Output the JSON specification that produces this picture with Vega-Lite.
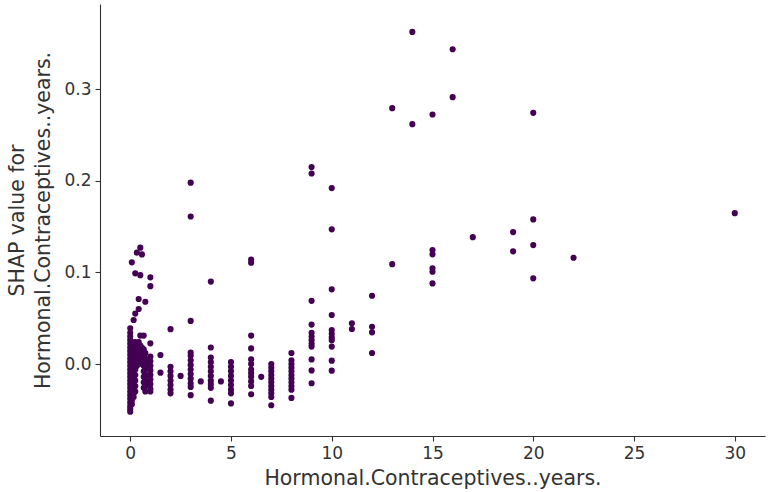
{
  "$schema": "https://vega.github.io/schema/vega-lite/v6.json",
  "autosize": "none",
  "padding": {"left": 100, "top": 4, "right": 4, "bottom": 56},
  "width": 665,
  "height": 432,
  "background": "white",
  "config": {
    "view": {"stroke": null},
    "font": "DejaVu Sans",
    "axis": {
      "grid": false,
      "domainColor": "#333333",
      "domainWidth": 1.1,
      "tickColor": "#333333",
      "tickWidth": 1.1,
      "tickSize": 5,
      "labelColor": "#333333",
      "labelFont": "DejaVu Sans",
      "labelFontSize": 17,
      "labelPadding": 4,
      "titleColor": "#333333",
      "titleFont": "DejaVu Sans",
      "titleFontSize": 20.5,
      "titleFontWeight": "normal"
    }
  },
  "data": {
    "values": [
      {"years": 0, "shap": 0.039}, {"years": 0, "shap": 0.034}, {"years": 0, "shap": 0.030}, {"years": 0, "shap": 0.026},
      {"years": 0, "shap": 0.022}, {"years": 0, "shap": 0.018}, {"years": 0, "shap": 0.014}, {"years": 0, "shap": 0.010},
      {"years": 0, "shap": 0.006}, {"years": 0, "shap": 0.002}, {"years": 0, "shap": -0.002}, {"years": 0, "shap": -0.006},
      {"years": 0, "shap": -0.010}, {"years": 0, "shap": -0.014}, {"years": 0, "shap": -0.018}, {"years": 0, "shap": -0.022},
      {"years": 0, "shap": -0.026}, {"years": 0, "shap": -0.030}, {"years": 0, "shap": -0.034}, {"years": 0, "shap": -0.038},
      {"years": 0, "shap": -0.042}, {"years": 0, "shap": -0.046}, {"years": 0, "shap": -0.049}, {"years": 0, "shap": -0.052},

      {"years": 0.08, "shap": 0.111},
      {"years": 0.08, "shap": 0.024}, {"years": 0.08, "shap": 0.020}, {"years": 0.08, "shap": 0.016}, {"years": 0.08, "shap": 0.012},
      {"years": 0.08, "shap": 0.008}, {"years": 0.08, "shap": 0.004}, {"years": 0.08, "shap": 0.000}, {"years": 0.08, "shap": -0.004},
      {"years": 0.08, "shap": -0.008}, {"years": 0.08, "shap": -0.012}, {"years": 0.08, "shap": -0.016}, {"years": 0.08, "shap": -0.020},
      {"years": 0.08, "shap": -0.024}, {"years": 0.08, "shap": -0.028}, {"years": 0.08, "shap": -0.032}, {"years": 0.08, "shap": -0.036},
      {"years": 0.08, "shap": -0.040}, {"years": 0.08, "shap": -0.044},

      {"years": 0.17, "shap": 0.048},
      {"years": 0.17, "shap": 0.022}, {"years": 0.17, "shap": 0.016}, {"years": 0.17, "shap": 0.010}, {"years": 0.17, "shap": 0.004},
      {"years": 0.17, "shap": -0.002}, {"years": 0.17, "shap": -0.008}, {"years": 0.17, "shap": -0.014}, {"years": 0.17, "shap": -0.020},
      {"years": 0.17, "shap": -0.026}, {"years": 0.17, "shap": -0.032}, {"years": 0.17, "shap": -0.036},

      {"years": 0.25, "shap": 0.099}, {"years": 0.25, "shap": 0.055},
      {"years": 0.25, "shap": 0.024}, {"years": 0.25, "shap": 0.018}, {"years": 0.25, "shap": 0.012}, {"years": 0.25, "shap": 0.006},
      {"years": 0.25, "shap": 0.000}, {"years": 0.25, "shap": -0.006}, {"years": 0.25, "shap": -0.012}, {"years": 0.25, "shap": -0.018},
      {"years": 0.25, "shap": -0.024}, {"years": 0.25, "shap": -0.030},

      {"years": 0.33, "shap": 0.1215},
      {"years": 0.33, "shap": 0.022}, {"years": 0.33, "shap": 0.016}, {"years": 0.33, "shap": 0.010}, {"years": 0.33, "shap": 0.004},
      {"years": 0.33, "shap": -0.002},

      {"years": 0.42, "shap": 0.071}, {"years": 0.42, "shap": 0.060},
      {"years": 0.42, "shap": 0.024}, {"years": 0.42, "shap": 0.018}, {"years": 0.42, "shap": 0.012}, {"years": 0.42, "shap": 0.006},

      {"years": 0.5, "shap": 0.127}, {"years": 0.5, "shap": 0.097}, {"years": 0.5, "shap": 0.031},
      {"years": 0.5, "shap": 0.020}, {"years": 0.5, "shap": 0.014}, {"years": 0.5, "shap": 0.008}, {"years": 0.5, "shap": 0.002},

      {"years": 0.58, "shap": 0.1196},
      {"years": 0.58, "shap": 0.018}, {"years": 0.58, "shap": 0.012}, {"years": 0.58, "shap": 0.006}, {"years": 0.58, "shap": 0.000},

      {"years": 0.67, "shap": 0.031},
      {"years": 0.67, "shap": 0.016}, {"years": 0.67, "shap": 0.010}, {"years": 0.67, "shap": 0.004}, {"years": 0.67, "shap": -0.002},
      {"years": 0.67, "shap": -0.008}, {"years": 0.67, "shap": -0.014}, {"years": 0.67, "shap": -0.020}, {"years": 0.67, "shap": -0.026},

      {"years": 0.75, "shap": 0.068},
      {"years": 0.75, "shap": 0.012}, {"years": 0.75, "shap": 0.006}, {"years": 0.75, "shap": 0.000}, {"years": 0.75, "shap": -0.006},
      {"years": 0.75, "shap": -0.012}, {"years": 0.75, "shap": -0.018}, {"years": 0.75, "shap": -0.024}, {"years": 0.75, "shap": -0.030},

      {"years": 0.92, "shap": 0.004}, {"years": 0.92, "shap": -0.004}, {"years": 0.92, "shap": -0.012}, {"years": 0.92, "shap": -0.020},

      {"years": 1, "shap": 0.0946}, {"years": 1, "shap": 0.085}, {"years": 1, "shap": 0.0226},
      {"years": 1, "shap": 0.008}, {"years": 1, "shap": 0.003}, {"years": 1, "shap": -0.002}, {"years": 1, "shap": -0.007},
      {"years": 1, "shap": -0.012}, {"years": 1, "shap": -0.017}, {"years": 1, "shap": -0.022}, {"years": 1, "shap": -0.027},
      {"years": 1, "shap": -0.030},

      {"years": 1.5, "shap": 0.0098}, {"years": 1.5, "shap": -0.0095},

      {"years": 2, "shap": 0.038},
      {"years": 2, "shap": -0.003}, {"years": 2, "shap": -0.008}, {"years": 2, "shap": -0.013}, {"years": 2, "shap": -0.018},
      {"years": 2, "shap": -0.023}, {"years": 2, "shap": -0.028}, {"years": 2, "shap": -0.032},

      {"years": 2.5, "shap": -0.013},

      {"years": 3, "shap": 0.198}, {"years": 3, "shap": 0.161}, {"years": 3, "shap": 0.047}, {"years": 3, "shap": 0.0124},
      {"years": 3, "shap": 0.009}, {"years": 3, "shap": 0.004}, {"years": 3, "shap": -0.001}, {"years": 3, "shap": -0.006},
      {"years": 3, "shap": -0.011}, {"years": 3, "shap": -0.016}, {"years": 3, "shap": -0.021}, {"years": 3, "shap": -0.025},
      {"years": 3, "shap": -0.034},

      {"years": 3.5, "shap": -0.019},

      {"years": 4, "shap": 0.090}, {"years": 4, "shap": 0.018},
      {"years": 4, "shap": 0.007}, {"years": 4, "shap": 0.002}, {"years": 4, "shap": -0.003}, {"years": 4, "shap": -0.008},
      {"years": 4, "shap": -0.013}, {"years": 4, "shap": -0.018}, {"years": 4, "shap": -0.022}, {"years": 4, "shap": -0.026},
      {"years": 4, "shap": -0.040},

      {"years": 4.5, "shap": -0.019},

      {"years": 5, "shap": 0.002}, {"years": 5, "shap": -0.003}, {"years": 5, "shap": -0.008}, {"years": 5, "shap": -0.013},
      {"years": 5, "shap": -0.018}, {"years": 5, "shap": -0.023}, {"years": 5, "shap": -0.028}, {"years": 5, "shap": -0.032},
      {"years": 5, "shap": -0.043},

      {"years": 6, "shap": 0.114}, {"years": 6, "shap": 0.1105}, {"years": 6, "shap": 0.031}, {"years": 6, "shap": 0.017},
      {"years": 6, "shap": 0.005}, {"years": 6, "shap": 0.000}, {"years": 6, "shap": -0.006}, {"years": 6, "shap": -0.010},
      {"years": 6, "shap": -0.014}, {"years": 6, "shap": -0.019}, {"years": 6, "shap": -0.024}, {"years": 6, "shap": -0.033},

      {"years": 6.5, "shap": -0.014},

      {"years": 7, "shap": 0.000}, {"years": 7, "shap": -0.004}, {"years": 7, "shap": -0.008}, {"years": 7, "shap": -0.012},
      {"years": 7, "shap": -0.016}, {"years": 7, "shap": -0.020}, {"years": 7, "shap": -0.024}, {"years": 7, "shap": -0.028},
      {"years": 7, "shap": -0.032}, {"years": 7, "shap": -0.036}, {"years": 7, "shap": -0.045},

      {"years": 8, "shap": 0.012},
      {"years": 8, "shap": 0.004}, {"years": 8, "shap": 0.000}, {"years": 8, "shap": -0.004}, {"years": 8, "shap": -0.008},
      {"years": 8, "shap": -0.012}, {"years": 8, "shap": -0.016}, {"years": 8, "shap": -0.020}, {"years": 8, "shap": -0.024},
      {"years": 8, "shap": -0.028}, {"years": 8, "shap": -0.037},

      {"years": 9, "shap": 0.215}, {"years": 9, "shap": 0.208}, {"years": 9, "shap": 0.069}, {"years": 9, "shap": 0.043},
      {"years": 9, "shap": 0.034}, {"years": 9, "shap": 0.030}, {"years": 9, "shap": 0.026}, {"years": 9, "shap": 0.022},
      {"years": 9, "shap": 0.019}, {"years": 9, "shap": 0.005}, {"years": 9, "shap": -0.007}, {"years": 9, "shap": -0.021},

      {"years": 10, "shap": 0.192}, {"years": 10, "shap": 0.147}, {"years": 10, "shap": 0.0815}, {"years": 10, "shap": 0.0535},
      {"years": 10, "shap": 0.037}, {"years": 10, "shap": 0.033}, {"years": 10, "shap": 0.029}, {"years": 10, "shap": 0.026},
      {"years": 10, "shap": 0.019}, {"years": 10, "shap": 0.0036}, {"years": 10, "shap": -0.0073},

      {"years": 11, "shap": 0.0444}, {"years": 11, "shap": 0.0382},

      {"years": 12, "shap": 0.0745}, {"years": 12, "shap": 0.0407}, {"years": 12, "shap": 0.0346}, {"years": 12, "shap": 0.012},

      {"years": 13, "shap": 0.2793}, {"years": 13, "shap": 0.109},

      {"years": 14, "shap": 0.3625}, {"years": 14, "shap": 0.2618},

      {"years": 15, "shap": 0.2724}, {"years": 15, "shap": 0.1244}, {"years": 15, "shap": 0.1197}, {"years": 15, "shap": 0.1044},
      {"years": 15, "shap": 0.1007}, {"years": 15, "shap": 0.088},

      {"years": 16, "shap": 0.3436}, {"years": 16, "shap": 0.2913},

      {"years": 17, "shap": 0.1385},

      {"years": 19, "shap": 0.144}, {"years": 19, "shap": 0.123},

      {"years": 20, "shap": 0.2742}, {"years": 20, "shap": 0.1578}, {"years": 20, "shap": 0.1298}, {"years": 20, "shap": 0.0935},

      {"years": 22, "shap": 0.116},

      {"years": 30, "shap": 0.1647}
    ]
  },
  "mark": {"type": "point", "filled": true, "shape": "circle", "size": 38, "color": "#440154", "opacity": 1, "strokeWidth": 0},
  "encoding": {
    "x": {
      "field": "years",
      "type": "quantitative",
      "scale": {"domain": [-1.5, 31.5], "nice": false, "zero": false},
      "axis": {"values": [0, 5, 10, 15, 20, 25, 30], "title": "Hormonal.Contraceptives..years.", "titlePadding": 7}
    },
    "y": {
      "field": "shap",
      "type": "quantitative",
      "scale": {"domain": [-0.0786, 0.393], "nice": false, "zero": false},
      "axis": {
        "values": [0, 0.1, 0.2, 0.3],
        "format": ".1f",
        "title": ["SHAP value for", "Hormonal.Contraceptives..years."],
        "titlePadding": 10,
        "titleLineHeight": 26.5
      }
    }
  }
}
